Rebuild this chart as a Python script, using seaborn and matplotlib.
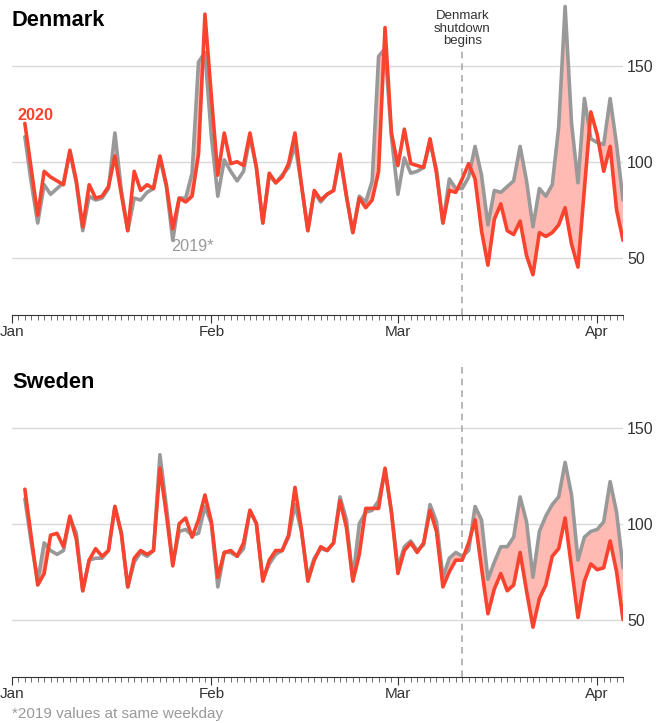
import pandas as pd
import matplotlib.pyplot as plt
import matplotlib.dates as mdates
import seaborn as sns

# daily values, Jan 3 - Apr 5 2020 (2019 matched on weekday)
dates = pd.date_range("2020-01-03", "2020-04-05", freq="D")

dk_2020 = [120, 96, 72, 95, 92, 90, 88, 106, 90, 66, 88, 81, 82, 87, 103, 83, 64, 95, 85, 88,
           86, 103, 88, 65, 81, 79, 82, 104, 177, 134, 93, 115, 99, 100, 98, 115, 97, 68, 94, 89,
           92, 99, 115, 88, 64, 85, 80, 83, 85, 104, 82, 63, 81, 76, 80, 95, 170, 115, 98, 117,
           99, 98, 97, 112, 94, 68, 85, 84, 91, 99, 91, 64, 46, 70, 78, 64, 62, 69, 51, 41,
           63, 61, 63, 67, 76, 57, 45, 86, 126, 114, 95, 108, 75, 59]
dk_2019 = [113, 89, 68, 88, 83, 86, 89, 105, 89, 64, 82, 80, 81, 86, 115, 85, 64, 81, 80, 84,
           86, 102, 87, 59, 81, 81, 94, 152, 157, 113, 82, 101, 95, 90, 95, 113, 97, 68, 93, 89,
           93, 97, 109, 88, 64, 84, 79, 83, 85, 102, 82, 63, 82, 79, 90, 155, 159, 113, 83, 102,
           94, 95, 97, 110, 96, 68, 91, 86, 86, 92, 108, 93, 67, 85, 84, 87, 90, 108, 90, 66,
           86, 82, 88, 118, 181, 120, 89, 133, 112, 110, 109, 133, 109, 80]
se_2020 = [118, 93, 68, 74, 94, 95, 88, 104, 92, 65, 81, 87, 83, 86, 109, 95, 67, 82, 86, 84,
           86, 129, 105, 78, 100, 103, 93, 102, 115, 101, 72, 85, 86, 83, 90, 107, 100, 70, 81, 86,
           86, 94, 119, 97, 70, 81, 88, 86, 90, 112, 98, 70, 84, 108, 108, 108, 129, 106, 74, 86,
           90, 85, 90, 107, 96, 67, 75, 81, 81, 90, 102, 77, 53, 66, 74, 65, 68, 85, 65, 46,
           61, 68, 83, 87, 103, 77, 51, 70, 79, 76, 77, 91, 75, 50]
se_2019 = [113, 90, 70, 90, 86, 84, 86, 103, 95, 65, 81, 82, 82, 86, 109, 95, 67, 80, 85, 83,
           86, 136, 109, 79, 96, 97, 94, 95, 109, 100, 67, 85, 85, 83, 87, 107, 100, 71, 79, 84,
           86, 93, 110, 96, 72, 82, 87, 86, 90, 114, 102, 71, 100, 106, 107, 112, 128, 106, 77, 88,
           91, 86, 89, 110, 101, 72, 82, 85, 83, 86, 109, 102, 71, 80, 88, 88, 93, 114, 101, 72,
           96, 104, 110, 114, 132, 115, 81, 93, 96, 97, 101, 122, 106, 77]

countries = ["Denmark", "Sweden"]
shutdown = pd.Timestamp("2020-03-11")
month_labels = ["Jan", "Feb", "Mar", "Apr"]
yticks = [50, 100, 150]

RED = "#f8432f"
GRAY = "#999999"
FILL = "#ffbab4"

sns.set_style("white")
plt.rcParams["font.family"] = ["Liberation Sans", "DejaVu Sans"]

fig = plt.figure(figsize=(6.67, 7.23), dpi=100)
ax_dk = fig.add_axes([12 / 667, 1 - 315 / 723, 611 / 667, 315 / 723])
ax_se = fig.add_axes([12 / 667, 1 - 677 / 723, 611 / 667, 315 / 723])

for ax, name, v20, v19 in [(ax_dk, "Denmark", dk_2020, dk_2019), (ax_se, "Sweden", se_2020, se_2019)]:
    df = pd.DataFrame({"date": dates, "y2020": v20, "y2019": v19})
    ax.fill_between(df["date"], df["y2019"], df["y2020"], where=df["y2019"] > df["y2020"],
                    interpolate=True, color=FILL, lw=0, zorder=1)
    sns.lineplot(data=df, x="date", y="y2019", ax=ax, color=GRAY, lw=2.6, zorder=2)
    sns.lineplot(data=df, x="date", y="y2020", ax=ax, color=RED, lw=2.6, zorder=3)

    ax.set_xlim(pd.Timestamp("2020-01-01"), pd.Timestamp("2020-04-05"))
    ax.set_ylim(20, 184.4)
    ax.set_xlabel("")
    ax.set_ylabel("")
    for y in yticks:
        ax.axhline(y, color="#d9d9d9", lw=1, zorder=0)

    ax.set_xticks(pd.to_datetime(["2020-01-01", "2020-02-01", "2020-03-01", "2020-04-01"]))
    ax.set_xticklabels(month_labels)
    ax.xaxis.set_minor_locator(mdates.DayLocator())
    ax.tick_params(axis="x", which="both", bottom=True)
    ax.tick_params(axis="x", which="major", length=6, width=0.8, color="#333333",
                   labelsize=11, labelcolor="#333333", pad=1)
    ax.tick_params(axis="x", which="minor", length=3.5, width=0.6, color="#555555")

    ax.yaxis.tick_right()
    ax.set_yticks(yticks)
    ax.tick_params(axis="y", length=0, labelsize=11.5, labelcolor="#333333", pad=3)

    for s in ["top", "left", "right"]:
        ax.spines[s].set_visible(False)
    ax.spines["bottom"].set_color("#333333")
    ax.spines["bottom"].set_linewidth(0.8)
    ax.patch.set_alpha(0)

# shutdown marker
ax_dk.axvline(shutdown, ymax=0.84, color="#aaaaaa", lw=1.2, dashes=(4, 3), zorder=0)
ax_se.axvline(shutdown, color="#aaaaaa", lw=1.2, dashes=(4, 3), zorder=0)
ax_dk.text(shutdown, 169.5, "Denmark\nshutdown\nbegins", ha="center", va="center",
           fontsize=9.5, color="#333333", linespacing=1.1)

# series labels
ax_dk.text(pd.Timestamp("2020-01-04 14:00"), 124, "2020", ha="center", va="center",
           fontsize=11.7, fontweight="bold", color=RED)
ax_dk.text(pd.Timestamp("2020-01-29 02:00"), 56, "2019*", ha="center", va="center",
           fontsize=11.7, color=GRAY)

fig.text(12 / 667, 1 - 20 / 723, countries[0], fontsize=15.7, fontweight="bold",
         color="black", va="center")
fig.text(12 / 667, 1 - 382 / 723, countries[1], fontsize=15.7, fontweight="bold",
         color="black", va="center")
fig.text(12 / 667, 1 - 714 / 723, "*2019 values at same weekday", fontsize=11,
         color=GRAY, va="center")

fig.savefig("out.png", dpi=100)
